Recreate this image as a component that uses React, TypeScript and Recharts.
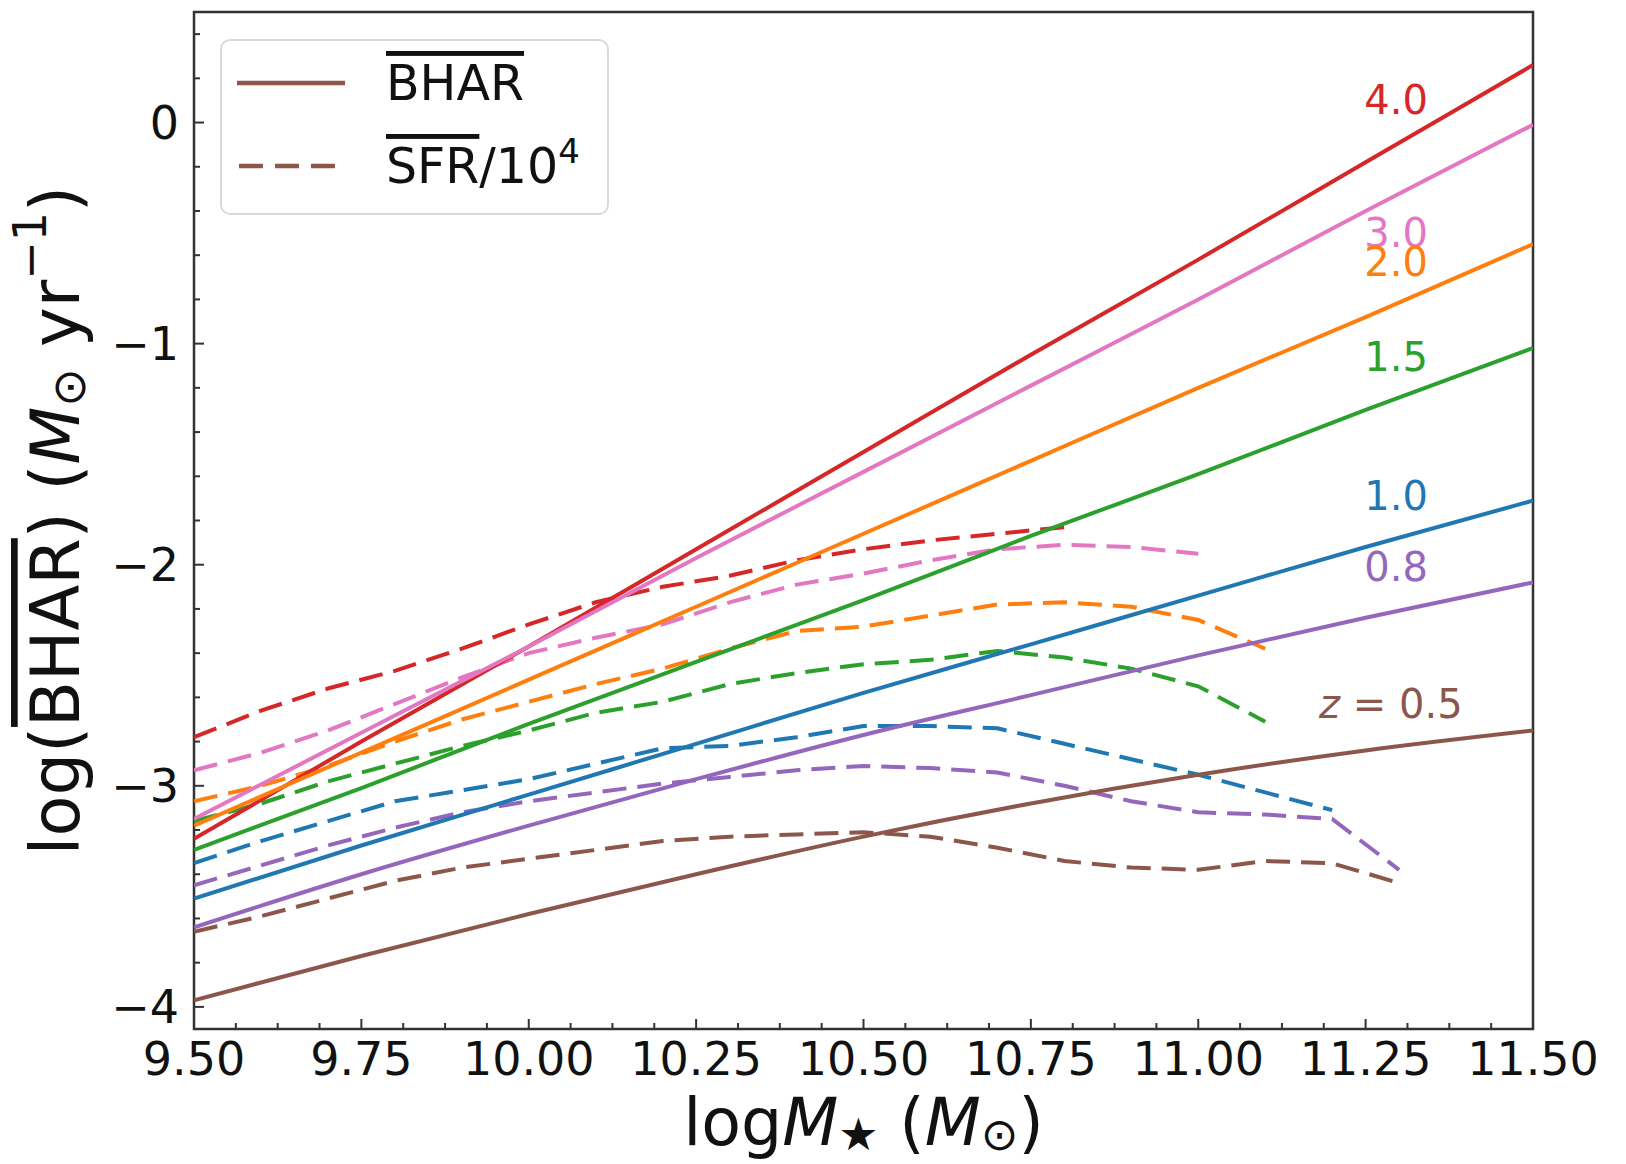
import React from "react";
import {
  LineChart,
  Line,
  XAxis,
  YAxis,
  ReferenceArea,
  ReferenceDot,
  Legend,
  Label,
} from "recharts";

// stellar mass grid for the BHAR curves (solid)
const bharMass = [9.5, 9.75, 10.0, 10.25, 10.5, 10.75, 11.0, 11.25, 11.5];
const bharZ40 = [-3.24, -2.8, -2.37, -1.93, -1.49, -1.05, -0.62, -0.18, 0.26];
const bharZ30 = [-3.15, -2.76, -2.37, -1.97, -1.58, -1.19, -0.8, -0.4, -0.01];
const bharZ20 = [-3.18, -2.85, -2.52, -2.19, -1.86, -1.53, -1.2, -0.88, -0.55];
const bharZ15 = [-3.29, -3.01, -2.72, -2.44, -2.16, -1.87, -1.59, -1.3, -1.02];
const bharZ10 = [-3.51, -3.27, -3.04, -2.81, -2.58, -2.36, -2.14, -1.92, -1.71];
const bharZ08 = [-3.64, -3.4, -3.18, -2.97, -2.77, -2.59, -2.41, -2.24, -2.08];
const bharZ05 = [-3.97, -3.77, -3.58, -3.4, -3.23, -3.08, -2.95, -2.84, -2.75];

// stellar mass bins for SFR/1e4 curves (dashed)
const sfrMass = [
  9.5, 9.6, 9.7, 9.8, 9.9, 10.0, 10.1, 10.2, 10.3, 10.4, 10.5, 10.6, 10.7,
  10.8, 10.9, 11.0, 11.1, 11.2, 11.3,
];
const sfrZ40 = [-2.78, -2.66, -2.56, -2.48, -2.38, -2.27, -2.17, -2.1, -2.05, -1.98, -1.93, -1.89, -1.86, -1.83];
const sfrZ30 = [-2.93, -2.85, -2.75, -2.63, -2.51, -2.4, -2.33, -2.27, -2.17, -2.09, -2.04, -1.98, -1.93, -1.91, -1.92, -1.95];
const sfrZ20 = [-3.07, -3.0, -2.91, -2.8, -2.7, -2.62, -2.54, -2.47, -2.38, -2.3, -2.28, -2.23, -2.18, -2.17, -2.19, -2.25, -2.38];
const sfrZ15 = [-3.16, -3.08, -2.98, -2.9, -2.82, -2.75, -2.67, -2.62, -2.54, -2.49, -2.45, -2.43, -2.39, -2.42, -2.47, -2.55, -2.71];
const sfrZ10 = [-3.35, -3.25, -3.16, -3.07, -3.02, -2.97, -2.9, -2.83, -2.82, -2.78, -2.73, -2.73, -2.74, -2.81, -2.88, -2.95, -3.03, -3.11];
const sfrZ08 = [-3.45, -3.36, -3.27, -3.19, -3.12, -3.07, -3.03, -2.99, -2.96, -2.93, -2.91, -2.92, -2.94, -3.0, -3.07, -3.12, -3.13, -3.15, -3.38];
const sfrZ05 = [-3.66, -3.59, -3.51, -3.43, -3.37, -3.33, -3.29, -3.25, -3.23, -3.22, -3.21, -3.23, -3.28, -3.34, -3.37, -3.38, -3.34, -3.35, -3.44];

const redshiftLabels = ["4.0", "3.0", "2.0", "1.5", "1.0", "0.8", "0.5"];
const colors = ["#d62728", "#e377c2", "#ff7f0e", "#2ca02c", "#1f77b4", "#9467bd", "#8c564b"];

const xMajorTicks = [9.5, 9.75, 10.0, 10.25, 10.5, 10.75, 11.0, 11.25, 11.5];

// annotation anchors (data coords, right aligned)
const labelPos = [
  { x: 11.343, y: 0.1 },
  { x: 11.343, y: -0.5 },
  { x: 11.343, y: -0.63 },
  { x: 11.343, y: -1.06 },
  { x: 11.343, y: -1.69 },
  { x: 11.343, y: -2.01 },
  { x: 11.395, y: -2.63 },
];

const xTicks: number[] = [];
for (let i = 0; i < xMajorTicks.length - 1; i++) {
  for (let k = 0; k < 4; k++) xTicks.push(xMajorTicks[i] + (k * 0.25) / 4);
}
xTicks.push(11.5);
const yTicks: number[] = [];
for (let k = 0; k <= 22; k++) yTicks.push(Math.round((-4 + k * 0.2) * 100) / 100);

const rows = (xs: number[], ys: number[]) => ys.map((y, i) => ({ x: xs[i], y }));
const bharSeries = [bharZ40, bharZ30, bharZ20, bharZ15, bharZ10, bharZ08, bharZ05];
const sfrSeries = [sfrZ40, sfrZ30, sfrZ20, sfrZ15, sfrZ10, sfrZ08, sfrZ05];

const FONT = "DejaVu Sans";
const AXIS = "#333";
const X_MARGIN = 13;
const Y_MARGIN = 15;

const XTick = (props: any) => {
  const { x, y, payload } = props;
  const v = payload.value;
  const major = Math.abs(v * 4 - Math.round(v * 4)) < 1e-6;
  const axisY = y - X_MARGIN;
  return (
    <g>
      <line x1={x} x2={x} y1={axisY} y2={axisY - (major ? 10 : 6)} stroke={AXIS} strokeWidth={2} />
      {major && (
        <text x={x} y={y} dy="0.71em" textAnchor="middle" fontFamily={FONT} fontSize={46} fill="#111">
          {v.toFixed(2)}
        </text>
      )}
    </g>
  );
};

const YTick = (props: any) => {
  const { x, y, payload } = props;
  const v = payload.value;
  const major = Math.abs(v - Math.round(v)) < 1e-6;
  const axisX = x + Y_MARGIN;
  return (
    <g>
      <line x1={axisX} x2={axisX + (major ? 10 : 6)} y1={y} y2={y} stroke={AXIS} strokeWidth={2} />
      {major && (
        <text x={x} y={y} dy="0.36em" textAnchor="end" fontFamily={FONT} fontSize={46} fill="#111">
          {v < 0 ? "\u2212" + Math.abs(v) : String(v)}
        </text>
      )}
    </g>
  );
};

const XLabel = (props: any) => {
  const vb = props.viewBox;
  const cx = vb.x + vb.width / 2;
  const cy = vb.y + 93;
  return (
    <text x={cx} y={cy} textAnchor="middle" dominantBaseline="central" fontFamily={FONT} fontSize={65} fill="#111">
      log<tspan fontStyle="italic">M</tspan>
      <tspan fontSize={45} dy={12}>★</tspan>
      <tspan dy={-12}> (</tspan>
      <tspan fontStyle="italic">M</tspan>
      <tspan fontSize={45} dy={12}>⊙</tspan>
      <tspan dy={-12}>)</tspan>
    </text>
  );
};

const YLabel = (props: any) => {
  const vb = props.viewBox;
  const cx = 56;
  const cy = vb.y + vb.height / 2;
  return (
    <text
      x={cx}
      y={cy}
      transform={`rotate(-90, ${cx}, ${cy})`}
      textAnchor="middle"
      dominantBaseline="central"
      fontFamily={FONT}
      fontSize={67}
      fill="#111"
    >
      log(<tspan style={{ textDecoration: "overline" }}>BHAR</tspan>) (
      <tspan fontStyle="italic">M</tspan>
      <tspan fontSize={46} dy={13}>⊙</tspan>
      <tspan dy={-13}> yr</tspan>
      <tspan fontSize={46} dy={-26}>−1</tspan>
      <tspan dy={26}>)</tspan>
    </text>
  );
};

const LegendBox = () => (
  <div
    style={{
      width: 389,
      height: 176,
      boxSizing: "border-box",
      border: "2px solid #dadada",
      borderRadius: 10,
      background: "rgba(255,255,255,0.85)",
      position: "relative",
    }}
  >
    <svg width={389} height={176} style={{ position: "absolute", left: -2, top: -2 }}>
      <line x1={17} x2={125} y1={44} y2={44} stroke={colors[6]} strokeWidth={4.5} />
      <line x1={19} x2={125} y1={127} y2={127} stroke={colors[6]} strokeWidth={4.5} strokeDasharray="24 12" />
      <text x={166} y={61} fontFamily={FONT} fontSize={49} fill="#111" style={{ textDecoration: "overline" }}>
        BHAR
      </text>
      <text x={166} y={144} fontFamily={FONT} fontSize={49} fill="#111">
        <tspan style={{ textDecoration: "overline" }}>SFR</tspan>/10
        <tspan fontSize={34} dy={-20}>4</tspan>
      </text>
    </svg>
  </div>
);

export default function App() {
  return (
    <div style={{ position: "absolute", left: 0, top: 0, width: 1626, height: 1164, background: "#fff" }}>
      <LineChart width={1626} height={1164} margin={{ top: 12, right: 93, left: 0, bottom: 0 }}>
        <XAxis
          type="number"
          dataKey="x"
          domain={[9.5, 11.5]}
          ticks={xTicks}
          interval={0}
          allowDataOverflow
          axisLine={false}
          tickLine={false}
          tickSize={0}
          tickMargin={X_MARGIN}
          tick={<XTick />}
          height={135}
        >
          <Label content={<XLabel />} />
        </XAxis>
        <YAxis
          type="number"
          domain={[-4.1, 0.5]}
          ticks={yTicks}
          interval={0}
          allowDataOverflow
          axisLine={false}
          tickLine={false}
          tickSize={0}
          tickMargin={Y_MARGIN}
          tick={<YTick />}
          width={194}
        >
          <Label content={<YLabel />} />
        </YAxis>
        {sfrSeries.map((ys, i) => (
          <Line
            key={"sfr" + i}
            data={rows(sfrMass, ys)}
            dataKey="y"
            type="linear"
            stroke={colors[i]}
            strokeWidth={4}
            strokeDasharray="24 11"
            dot={false}
            isAnimationActive={false}
          />
        ))}
        {bharSeries.map((ys, i) => (
          <Line
            key={"bhar" + i}
            data={rows(bharMass, ys)}
            dataKey="y"
            type="monotone"
            stroke={colors[i]}
            strokeWidth={4}
            dot={false}
            isAnimationActive={false}
          />
        ))}
        {redshiftLabels.map((t, i) => (
          <ReferenceDot
            key={"lab" + i}
            x={labelPos[i].x}
            y={labelPos[i].y}
            r={0}
            shape={(p: any) => (
              <text
                x={p.cx}
                y={p.cy}
                textAnchor="end"
                dominantBaseline="central"
                fontFamily={FONT}
                fontSize={40}
                fill={colors[i]}
              >
                {i === 6 ? (
                  <>
                    <tspan fontStyle="italic">z</tspan> = {t}
                  </>
                ) : (
                  t
                )}
              </text>
            )}
          />
        ))}
        <ReferenceArea
          x1={9.5}
          x2={11.5}
          y1={-4.1}
          y2={0.5}
          fill="none"
          stroke={AXIS}
          strokeWidth={2.5}
          ifOverflow="visible"
        />
        <Legend
          layout="vertical"
          align="center"
          verticalAlign="middle"
          content={<LegendBox />}
          wrapperStyle={{ position: "absolute", left: 220, top: 39, width: 389, height: 176 }}
        />
      </LineChart>
    </div>
  );
}
